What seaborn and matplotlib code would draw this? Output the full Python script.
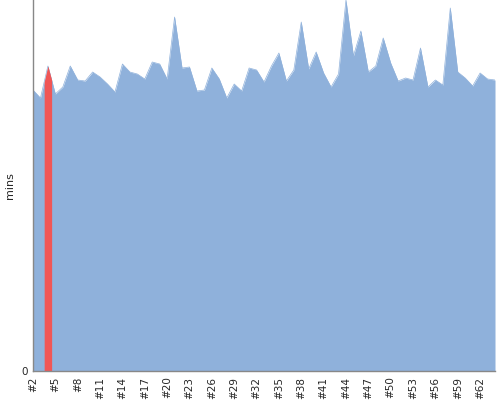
import numpy as np
import pandas as pd
import matplotlib
matplotlib.use("Agg")
import matplotlib.pyplot as plt
import seaborn as sns

# session numbers and duration (mins)
sessions = list(range(2, 65))
mins = [28.1, 27.3, 30.5, 27.7, 28.4, 30.5, 29.1, 29.0, 29.9, 29.4,
        28.7, 27.9, 30.7, 29.9, 29.7, 29.2, 30.9, 30.7, 29.2, 35.4,
        30.3, 30.4, 28.0, 28.1, 30.3, 29.2, 27.3, 28.7, 28.0, 30.3,
        30.1, 28.9, 30.5, 31.8, 29.0, 30.1, 34.9, 30.2, 31.9, 29.8,
        28.4, 29.7, 37.1, 31.5, 34.0, 29.9, 30.5, 33.3, 30.8, 29.0,
        29.3, 29.1, 32.3, 28.4, 29.1, 28.6, 36.3, 29.9, 29.3, 28.5,
        29.8, 29.2, 29.1]
highlight = 4  # session shown in red
tick_sessions = list(range(2, 65, 3))

blue = "#8fb1db"
red = "#f05656"

sns.set_style("white")
plt.rcParams['font.family'] = ['DejaVu Sans']

df = pd.DataFrame({"session": sessions, "mins": mins})

fig = plt.figure(figsize=(5, 4), dpi=100)
ax = fig.add_axes([0.066, 0.0725, 0.924, 0.9275])

ax.fill_between(df["session"], 0, df["mins"], color=blue, linewidth=0, zorder=1)
sns.lineplot(data=df, x="session", y="mins", color=blue, linewidth=0.5, ax=ax, zorder=1)

# red band around the highlighted session
hx = np.array([highlight - 0.5, highlight, highlight + 0.5])
hy = np.interp(hx, df["session"], df["mins"])
ax.fill_between(hx, 0, hy, color=red, linewidth=0, zorder=2)

ax.set_xlim(sessions[0], sessions[-1])
ax.set_ylim(0, max(mins))
ax.set_xticks(tick_sessions)
ax.set_xticklabels([f"#{s}" for s in tick_sessions], rotation=90, fontsize=7.5)
ax.set_yticks([0])
ax.set_yticklabels(["0"], fontsize=7.5)
ax.tick_params(length=0, pad=4)
ax.set_xlabel("")
ax.set_ylabel("mins", fontsize=8)
ax.yaxis.set_label_coords(-0.04, 0.5)

for side in ["top", "right"]:
    ax.spines[side].set_visible(False)
for side in ["left", "bottom"]:
    ax.spines[side].set_color("#888888")
    ax.spines[side].set_linewidth(1)
    ax.spines[side].set_zorder(3)

fig.savefig("out.png", dpi=100)
